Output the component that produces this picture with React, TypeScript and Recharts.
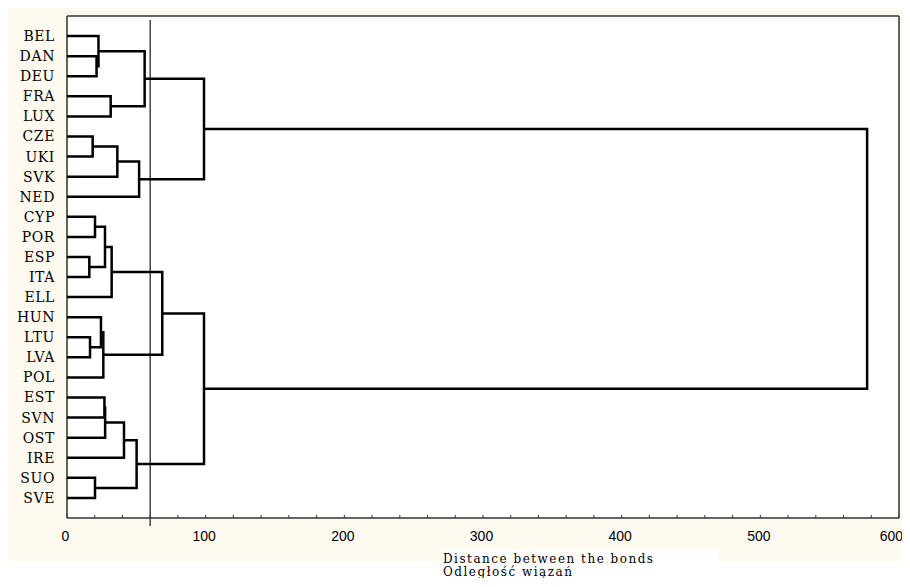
import React from 'react';
import { ComposedChart, Scatter, XAxis, YAxis, CartesianGrid, ReferenceLine } from 'recharts';

// Leaf order (top to bottom) of the dendrogram
const LEAVES = ['BEL', 'DAN', 'DEU', 'FRA', 'LUX', 'CZE', 'UKI', 'SVK', 'NED', 'CYP', 'POR', 'ESP', 'ITA', 'ELL', 'HUN', 'LTU', 'LVA', 'POL', 'EST', 'SVN', 'OST', 'IRE', 'SUO', 'SVE'];

// Merges: [new cluster id, child a, child b, linkage distance]
const MERGES: [string, string, string, number][] = [
  ['c1', 'DAN', 'DEU', 21.3],
  ['c2', 'BEL', 'c1', 22.7],
  ['c3', 'FRA', 'LUX', 31.5],
  ['c4', 'c2', 'c3', 56],
  ['c5', 'CZE', 'UKI', 18.5],
  ['c6', 'c5', 'SVK', 36.3],
  ['c7', 'c6', 'NED', 52],
  ['c8', 'c4', 'c7', 98.8],
  ['c9', 'CYP', 'POR', 20.2],
  ['c10', 'ESP', 'ITA', 16.1],
  ['c11', 'c9', 'c10', 27.4],
  ['c12', 'c11', 'ELL', 32.2],
  ['c13', 'LTU', 'LVA', 16.6],
  ['c14', 'HUN', 'c13', 24.5],
  ['c15', 'c14', 'POL', 26.2],
  ['c16', 'c12', 'c15', 68.7],
  ['c17', 'EST', 'SVN', 27.0],
  ['c18', 'c17', 'OST', 27.5],
  ['c19', 'c18', 'IRE', 41.1],
  ['c20', 'SUO', 'SVE', 20.2],
  ['c21', 'c19', 'c20', 50.2],
  ['c22', 'c16', 'c21', 98.8],
  ['c23', 'c8', 'c22', 577],
];

const X_TICKS_MAJOR = [0, 100, 200, 300, 400, 500, 600];
const X_TICKS_MINOR = [0, 20, 40, 60, 80, 100, 120, 140, 160, 180, 200, 220, 240, 260, 280, 300, 320, 340, 360, 380, 400, 420, 440, 460, 480, 500, 520, 540, 560, 580, 600];
const CUTOFF = 60;
const TITLE_LINES = ['Distance between the bonds', 'Odległość wiązań'];

function buildLinks() {
  const pos: Record<string, { h: number; y: number }> = {};
  LEAVES.forEach((name, i) => {
    pos[name] = { h: 0, y: i + 1 };
  });
  return MERGES.map(([id, a, b, h]) => {
    const pa = pos[a];
    const pb = pos[b];
    pos[id] = { h, y: (pa.y + pb.y) / 2 };
    return [
      { x: pa.h, y: pa.y },
      { x: h, y: pa.y },
      { x: h, y: pb.y },
      { x: pb.h, y: pb.y },
    ];
  });
}

const LINKS = buildLinks();
const Y_TICKS = LEAVES.map((_, i) => i + 1);

const TitleLabel = (props: any) => {
  const vb = props.viewBox || { x: 59, y: 510 };
  const x0 = vb.x + 376;
  return (
    <g>
      <rect x={vb.x + 373} y={541} width={278} height={29} fill="#ffffff" />
      {TITLE_LINES.map((t, i) => (
        <text key={i} x={x0} y={554.5 + i * 13.5} fontFamily="DejaVu Serif" fontSize={12} letterSpacing={1.5} fill="#000">
          {t}
        </text>
      ))}
    </g>
  );
};

// Bottom tick label: only hundreds get text; last label kept inside the frame
const BottomTick = (props: any) => {
  const { x, y, payload } = props;
  const v = payload?.value;
  if (v % 100 !== 0) return <g />;
  const isLast = v === X_TICKS_MAJOR[X_TICKS_MAJOR.length - 1];
  return (
    <text
      x={isLast ? x + 4 : x - 1.5}
      y={y}
      dy="0.71em"
      textAnchor={isLast ? 'end' : 'middle'}
      fontFamily="Liberation Sans"
      fontSize={14}
      fill="#000"
    >
      {String(v)}
    </text>
  );
};

export default function App() {
  return (
    <div style={{ position: 'relative', width: 894, height: 570 }}>
      <div style={{ position: 'absolute', left: 0, top: 0, width: 895, height: 553, background: '#FFFAF0' }} />
      <ComposedChart
        width={894}
        height={570}
        margin={{ top: 7, right: 0, bottom: 0, left: 0 }}
        style={{ position: 'absolute', left: 0, top: 0, overflow: 'visible' }}
      >
        <CartesianGrid xAxisId="top" yAxisId="left" horizontal={false} fill="#ffffff" stroke="#c8c8c8" strokeDasharray="1 2" />
        <XAxis
          xAxisId="top"
          orientation="top"
          type="number"
          dataKey="x"
          domain={[0, 600]}
          ticks={X_TICKS_MAJOR}
          height={1}
          tickSize={-3}
          tickFormatter={() => ''}
          axisLine={{ stroke: '#333', strokeWidth: 1.5 }}
          tickLine={{ stroke: '#333' }}
        />
        <XAxis
          xAxisId="bottom"
          orientation="bottom"
          type="number"
          dataKey="x"
          domain={[0, 600]}
          ticks={X_TICKS_MINOR}
          interval={0}
          height={60}
          tickSize={-3}
          tickMargin={16}
          tick={<BottomTick />}
          axisLine={{ stroke: '#333', strokeWidth: 1.5 }}
          tickLine={{ stroke: '#333' }}
          label={<TitleLabel />}
        />
        <YAxis
          yAxisId="left"
          orientation="left"
          type="number"
          dataKey="y"
          domain={[0, 25]}
          reversed
          ticks={Y_TICKS}
          interval={0}
          width={59}
          tickLine={false}
          tickSize={0}
          tickMargin={12}
          tickFormatter={(v: number) => LEAVES[v - 1] ?? ''}
          tick={{ fontFamily: 'DejaVu Serif', fontSize: 14, fill: '#000', letterSpacing: 0.6 }}
          axisLine={{ stroke: '#333', strokeWidth: 1.5 }}
        />
        <YAxis
          yAxisId="right"
          orientation="right"
          type="number"
          domain={[0, 25]}
          reversed
          ticks={Y_TICKS}
          interval={0}
          width={3}
          tickSize={-3}
          tickFormatter={() => ''}
          axisLine={{ stroke: '#333', strokeWidth: 1.5 }}
          tickLine={{ stroke: '#333' }}
        />
        {LINKS.map((pts, i) => (
          <Scatter
            key={i}
            xAxisId="bottom"
            yAxisId="left"
            data={pts}
            line={{ stroke: '#000', strokeWidth: 2.5, strokeLinejoin: 'miter' }}
            shape={() => <g />}
            isAnimationActive={false}
          />
        ))}
        <ReferenceLine
          xAxisId="bottom"
          yAxisId="left"
          segment={[{ x: CUTOFF, y: 0.2 }, { x: CUTOFF, y: 25.4 }]}
          ifOverflow="visible"
          stroke="#444"
          strokeWidth={1.5}
        />
      </ComposedChart>
    </div>
  );
}
